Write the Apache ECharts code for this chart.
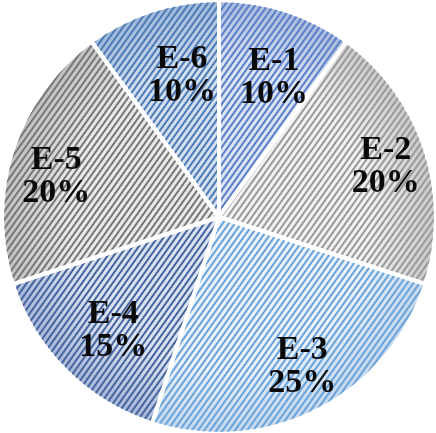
<!DOCTYPE html>
<html>
<head>
<meta charset="utf-8">
<script src="https://cdn.jsdelivr.net/npm/echarts@6/dist/echarts.min.js"></script>
<style>
  html, body { margin: 0; padding: 0; background: #fff; }
  #chart { width: 436px; height: 433px; }
</style>
</head>
<body>
<div id="chart"></div>
<script>
// Share of each group, clockwise from 12 o'clock
const categories = ['E-1', 'E-2', 'E-3', 'E-4', 'E-5', 'E-6'];
const shares = [10, 20, 25, 15, 20, 10];

// Fill (light centre, rim) and stripe colour per slice
const fillInner = ['#dbe4f4', '#f2f2f2', '#eaf2fb', '#dbe3f2', '#eaeaea', '#d3e0f1'];
const fillOuter = ['#a9bbdd', '#c9c9c9', '#c3d7ee', '#a6b7d8', '#bfbfbf', '#9db7da'];
const stripe = ['#5a7ec8', '#999999', '#6aa3da', '#46659f', '#777777', '#4d7ab4'];

// Nudge each label towards where it sits inside its slice
const labelShift = [[3, 20], [7, 2], [7, 0], [13, -5], [-3, 12], [15, 18]];

const CX = 219, CY = 217, R = 217;

const chart = echarts.init(document.getElementById('chart'));

const sliceData = categories.map((name, i) => ({
  name,
  value: shares[i],
  itemStyle: {
    color: {
      type: 'radial', x: CX, y: CY, r: R, global: true,
      colorStops: [
        { offset: 0, color: fillInner[i] },
        { offset: 0.7, color: fillInner[i] },
        { offset: 1, color: fillOuter[i] }
      ]
    },
    decal: {
      symbol: 'rect',
      symbolSize: 1,
      color: stripe[i],
      dashArrayX: [1, 0],
      dashArrayY: [1.3, 2.9],
      rotation: -Math.PI / 3.3
    }
  }
}));

const labelData = categories.map((name, i) => ({
  name,
  value: shares[i],
  label: { offset: labelShift[i] }
}));

chart.setOption({
  animation: false,
  series: [
    {
      type: 'pie',
      center: [CX, CY],
      radius: [0, R],
      startAngle: 90,
      clockwise: true,
      silent: true,
      label: { show: false },
      labelLine: { show: false },
      itemStyle: { borderColor: '#ffffff', borderWidth: 4 },
      data: sliceData
    },
    {
      type: 'pie',
      center: [CX, CY],
      radius: [R * 0.52, R],
      startAngle: 90,
      clockwise: true,
      silent: true,
      itemStyle: { color: 'rgba(0,0,0,0)' },
      labelLine: { show: false },
      label: {
        show: true,
        position: 'inside',
        formatter: p => p.name + '\n' + p.value + '%',
        fontFamily: 'Liberation Serif, Times New Roman, serif',
        fontWeight: 'bold',
        fontSize: 34,
        lineHeight: 33,
        color: '#0a0a0a'
      },
      data: labelData
    }
  ]
});
</script>
</body>
</html>
